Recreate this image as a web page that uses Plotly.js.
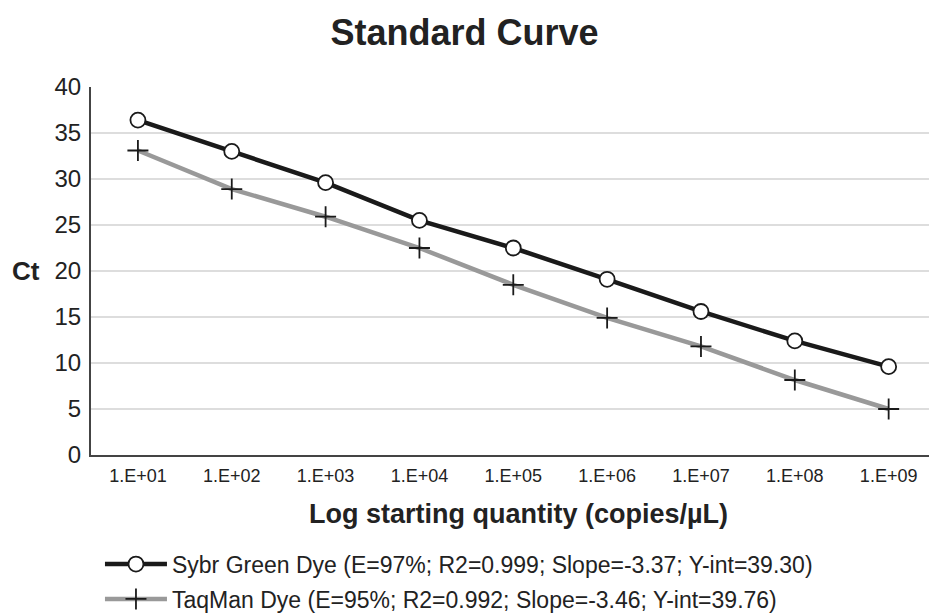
<!DOCTYPE html>
<html>
<head>
<meta charset="utf-8">
<script src="https://cdn.plot.ly/plotly-3.0.1.min.js"></script>
<style>html,body{margin:0;padding:0;background:#fff;}#chart{width:929px;height:615px;}</style>
</head>
<body>
<div id="chart"></div>
<script>
const categories = ["1.E+01","1.E+02","1.E+03","1.E+04","1.E+05","1.E+06","1.E+07","1.E+08","1.E+09"];
const sybrValues = [36.4, 33.0, 29.6, 25.5, 22.5, 19.1, 15.6, 12.4, 9.6];
const taqmanValues = [33.1, 28.9, 25.9, 22.5, 18.5, 14.9, 11.8, 8.15, 5.0];
const sybrName = "Sybr Green Dye (E=97%; R2=0.999; Slope=-3.37; Y-int=39.30)";
const taqmanName = "TaqMan Dye (E=95%; R2=0.992; Slope=-3.46; Y-int=39.76)";
const yTicks = [0,5,10,15,20,25,30,35,40];
const xTitle = "Log starting quantity (copies/µL)";
const yTitle = "Ct";
const chartTitle = "Standard Curve";

const font = "Liberation Sans, Arial, sans-serif";

const traces = [
  {
    x: categories, y: sybrValues, name: sybrName, type: "scatter", mode: "lines+markers",
    legendgroup: "a",
    line: {color: "#1a1a1a", width: 4.5},
    marker: {symbol: "circle", size: 15, color: "#ffffff", line: {color: "#1a1a1a", width: 1.8}}
  },
  {
    x: categories, y: taqmanValues, name: taqmanName, type: "scatter", mode: "lines+markers",
    legendgroup: "b",
    line: {color: "#999999", width: 4.5},
    marker: {symbol: "cross-thin", size: 15, color: "#1a1a1a", line: {color: "#1a1a1a", width: 1.8}}
  }
];

const layout = {
  width: 929, height: 615,
  paper_bgcolor: "#fff", plot_bgcolor: "#fff",
  margin: {l: 91, r: 0, t: 87, b: 160, autoexpand: false},
  font: {family: font, color: "#222"},
  title: {text: "<b>" + chartTitle + "</b>", font: {family: font, size: 36, color: "#222"}, x: 0.5, xanchor: "center", y: 0.948, yanchor: "middle"},
  showlegend: true,
  legend: {
    x: 0.0107, xanchor: "left", y: -0.238, yanchor: "top",
    orientation: "v", font: {family: font, size: 23, color: "#222"},
    traceorder: "grouped", tracegroupgap: 2, itemwidth: 62, bgcolor: "rgba(0,0,0,0)"
  },
  xaxis: {
    type: "category", range: [-0.5, 8.43],
    showgrid: false, zeroline: false, tickangle: 0,
    showline: true, linecolor: "#444", linewidth: 2,
    ticks: "", ticklabelstandoff: 3, tickfont: {family: font, size: 18, color: "#222"},
    fixedrange: true
  },
  yaxis: {
    range: [0, 40], tickvals: yTicks, ticktext: yTicks.map(String),
    showgrid: true, gridcolor: "#dddddd", gridwidth: 1.5,
    zeroline: false, showline: true, linecolor: "#444", linewidth: 2,
    ticks: "", ticklen: 0, ticklabelstandoff: 3, tickfont: {family: font, size: 24, color: "#222"},
    fixedrange: true
  },
  annotations: [
    {text: "<b>" + yTitle + "</b>", xref: "paper", yref: "paper", x: -0.078, y: 0.5, xanchor: "center", yanchor: "middle",
     showarrow: false, font: {family: font, size: 26, color: "#222"}},
    {text: "<b>" + xTitle + "</b>", xref: "paper", yref: "paper", x: 0.5107, y: -0.16, xanchor: "center", yanchor: "middle",
     showarrow: false, font: {family: font, size: 27, color: "#222"}}
  ]
};

Plotly.newPlot("chart", traces, layout, {displayModeBar: false, staticPlot: true});
</script>
</body>
</html>
